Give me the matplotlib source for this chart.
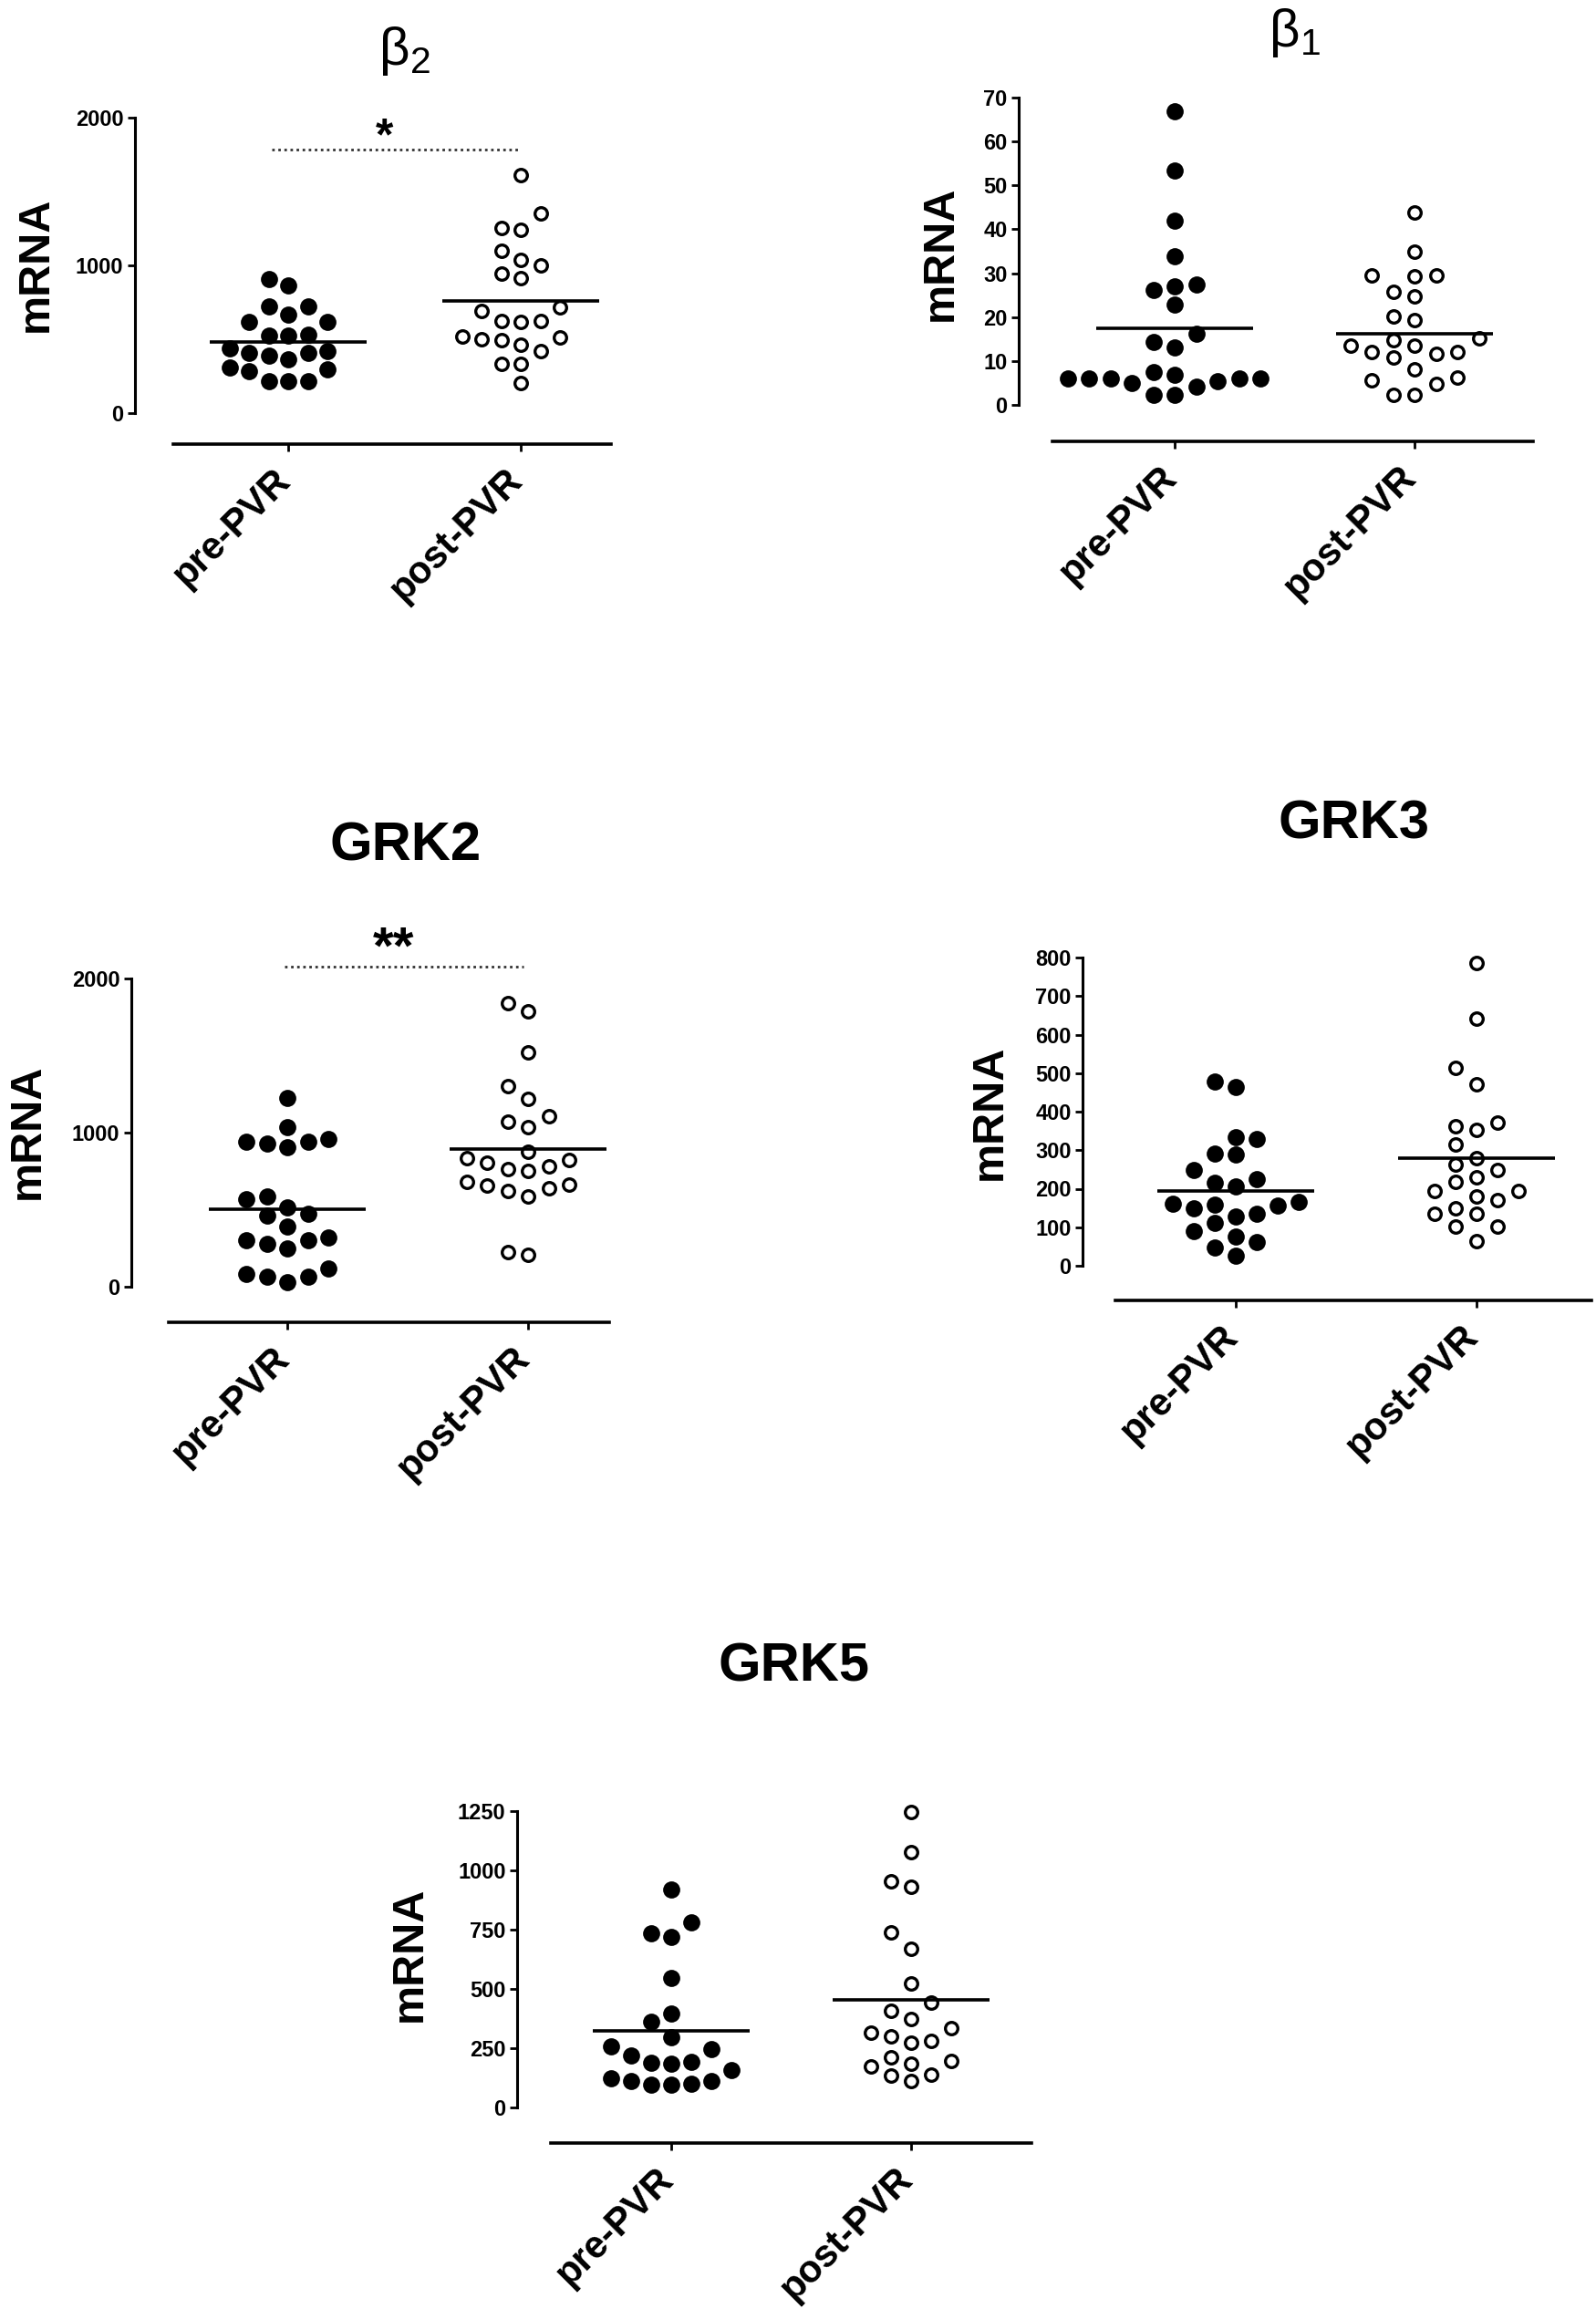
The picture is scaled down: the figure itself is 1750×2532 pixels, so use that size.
import numpy as np
import matplotlib
matplotlib.use('Agg')
import matplotlib.pyplot as plt
from matplotlib.transforms import ScaledTranslation

plt.rcParams['font.family'] = ['Liberation Sans', 'DejaVu Sans']
plt.rcParams['mathtext.fontset'] = 'dejavusans'

# ---------------- data ----------------
groups = ['pre-PVR', 'post-PVR']

b2_pre = [905, 864, 721, 721, 665, 618, 618, 532, 526, 526, 440, 405, 389, 409, 420,
          364, 311, 297, 282, 219, 219, 219]
b2_post = [1611, 1351, 1253, 1238, 1101, 1034, 999, 942, 911, 716, 692, 624, 618, 624,
           516, 495, 501, 512, 460, 420, 332, 332, 201]
b2_means = [481, 757]
b2_ticks = [0, 1000, 2000]

b1_pre = [66.9, 53.4, 41.9, 33.9, 27.4, 26.9, 26.2, 22.8, 16.1, 14.3, 13.0, 6.1, 5.4,
          6.8, 4.2, 7.5, 6.1, 6.1, 6.1, 4.9, 6.1, 2.3, 2.3]
b1_post = [43.8, 35.0, 29.3, 29.4, 29.4, 24.8, 25.7, 20.1, 19.4, 14.7, 13.4, 13.4, 15.1,
           12.0, 10.7, 11.6, 12.0, 8.2, 6.2, 4.7, 5.6, 2.3, 2.3]
b1_means = [17.5, 16.3]
b1_ticks = [0, 10, 20, 30, 40, 50, 60, 70]

grk2_pre = [1225, 1034, 960, 943, 928, 943, 907, 588, 567, 514, 476, 461, 391, 301, 280,
            301, 318, 248, 121, 68, 68, 85, 30]
grk2_post = [1841, 1788, 1522, 1304, 1219, 1108, 1070, 1034, 875, 822, 779, 752, 764, 805,
             836, 679, 658, 624, 588, 641, 662, 206, 227]
grk2_means = [503, 896]
grk2_ticks = [0, 1000, 2000]

grk3_pre = [479, 463, 328, 334, 288, 292, 248, 215, 205, 224, 165, 156, 149, 158, 161,
            134, 127, 112, 90, 62, 76, 48, 26]
grk3_post = [785, 642, 514, 470, 372, 352, 362, 315, 279, 262, 249, 229, 217, 193, 193,
             170, 180, 149, 136, 134, 101, 101, 63]
grk3_means = [193, 280]
grk3_ticks = [0, 100, 200, 300, 400, 500, 600, 700, 800]

grk5_pre = [919, 780, 733, 719, 547, 397, 362, 298, 258, 246, 218, 189, 193, 186, 157,
            112, 97, 100, 97, 112, 125]
grk5_post = [1246, 1077, 931, 952, 737, 669, 523, 444, 408, 372, 336, 279, 301, 315, 272,
             210, 186, 196, 172, 140, 136, 112]
grk5_means = [325, 455]
grk5_ticks = [0, 250, 500, 750, 1000, 1250]

# significance annotations: (y level of dotted line, label)
b2_sig = (1781, '*')
grk2_sig = (2074, '**')

# ---------------- figure ----------------
W, H = 1750, 2532
fig = plt.figure(figsize=(W / 100, H / 100), dpi=100)
fig.patch.set_facecolor('white')


def fx(px):
    return px / W


def fy(py):
    return 1 - py / H


def swarm(vals, ppu, step_px, thr_px):
    vals = np.asarray(vals, dtype=float)
    order = np.argsort(vals, kind='stable')
    cols = {}
    offs = np.zeros(len(vals))
    cand = [0]
    for j in range(1, 30):
        cand += [-j, j]
    for i in order:
        y = vals[i] * ppu
        for c in cand:
            if all(abs(y - yy) >= thr_px for yy in cols.get(c, [])):
                cols.setdefault(c, []).append(y)
                offs[i] = c * step_px
                break
    return offs


def panel(pre, post, means, ticks, L, step_px, sig=None):
    yx, cat0, cat1, ytop, y0, xline, x0, x1 = L
    topv = ticks[-1]
    sp = cat1 - cat0
    ppu = (y0 - ytop) / topv
    xl = (yx - cat0) / sp
    xr = (x1 - cat0) / sp
    yb = -(xline - y0) / ppu
    ax = fig.add_axes([fx(yx), fy(xline), (x1 - yx) / W, (xline - ytop) / H])
    ax.patch.set_alpha(0)
    ax.set_xlim(xl, xr)
    ax.set_ylim(yb, topv)
    for s in ['top', 'right']:
        ax.spines[s].set_visible(False)
    ax.spines['left'].set_linewidth(2.2)
    ax.spines['bottom'].set_linewidth(2.6)
    ax.spines['left'].set_bounds(0, topv)
    ax.spines['bottom'].set_bounds((x0 - cat0) / sp, xr)

    ax.set_yticks(ticks)
    ax.set_yticklabels([str(t) for t in ticks], fontsize=17, fontweight='bold')
    ax.tick_params(axis='y', direction='out', length=6, width=2, pad=3)
    ax.set_xticks([0, 1])
    ax.set_xticklabels(groups, rotation=45, ha='right', va='top',
                       fontsize=30, fontweight='bold')
    ax.tick_params(axis='x', direction='out', length=6, width=2, pad=8)
    shift = ScaledTranslation(10 / 100, 0, fig.dpi_scale_trans)
    for lab in ax.get_xticklabels():
        lab.set_transform(lab.get_transform() + shift)

    thr = 19
    o_pre = swarm(pre, ppu, step_px, thr) / sp
    o_post = swarm(post, ppu, step_px, thr) / sp
    ax.plot(0 + o_pre, pre, 'o', ms=13.5, color='black', mec='black', mew=0,
            clip_on=False, zorder=3)
    ax.plot(1 + o_post, post, 'o', ms=9.8, mfc='white', mec='black', mew=2.4,
            clip_on=False, zorder=3)
    hw = 86 / sp
    for i, m in enumerate(means):
        ax.plot([i - hw, i + hw], [m, m], color='black', lw=2.6, zorder=4,
                solid_capstyle='butt')
    if sig is not None:
        level, lo, hi = sig
        ax.plot([lo, hi], [level, level], color='#333333', lw=2.0,
                linestyle=(0, (1, 1.4)), clip_on=False, zorder=2)
    return ax


# layout: y-axis x, pre x, post x, top-tick y, zero y, x-line y, x-line start, x-line end
L_b2 = (148, 316, 571, 129, 453, 487, 190, 670)
L_b1 = (1117, 1288, 1551, 107, 444, 484, 1154, 1681)
L_g2 = (144, 315, 579, 1073, 1411, 1450, 185, 668)
L_g3 = (1187, 1355, 1619, 1050, 1388, 1426, 1223, 1745)
L_g5 = (567, 736, 999, 1986, 2311, 2350, 604, 1131)

ax_b2 = panel(b2_pre, b2_post, b2_means, b2_ticks, L_b2, 21.5,
              sig=(b2_sig[0], -0.07, 0.99))
ax_b1 = panel(b1_pre, b1_post, b1_means, b1_ticks, L_b1, 23.5)
ax_g2 = panel(grk2_pre, grk2_post, grk2_means, grk2_ticks, L_g2, 22.5,
              sig=(grk2_sig[0], -0.01, 0.98))
ax_g3 = panel(grk3_pre, grk3_post, grk3_means, grk3_ticks, L_g3, 23)
ax_g5 = panel(grk5_pre, grk5_post, grk5_means, grk5_ticks, L_g5, 22)

# significance stars
fig.text(fx(422), fy(135 + 29), b2_sig[1], ha='center', va='baseline',
         fontsize=36, fontweight='bold')
fig.text(fx(432), fy(1024 + 33), grk2_sig[1], ha='center', va='baseline',
         fontsize=42, fontweight='bold')

# titles
fig.text(fx(443), fy(56), r'$\mathregular{β_2}$', ha='center', va='center',
         fontsize=42)
fig.text(fx(1419), fy(36), r'$\mathregular{β_1}$', ha='center', va='center',
         fontsize=42)
for (x, y, t) in [(445, 928, 'GRK2'), (1484, 904, 'GRK3'), (871, 1828, 'GRK5')]:
    fig.text(fx(x), fy(y), t, ha='center', va='center', fontsize=43,
             fontweight='bold')

# y labels
for (x, y) in [(39, 290), (1031, 278), (30, 1241), (1085, 1220), (449, 2143)]:
    fig.text(fx(x), fy(y), 'mRNA', rotation=90, ha='center', va='center',
             fontsize=35, fontweight='bold')

fig.savefig('out.png', dpi=100, facecolor='white')
